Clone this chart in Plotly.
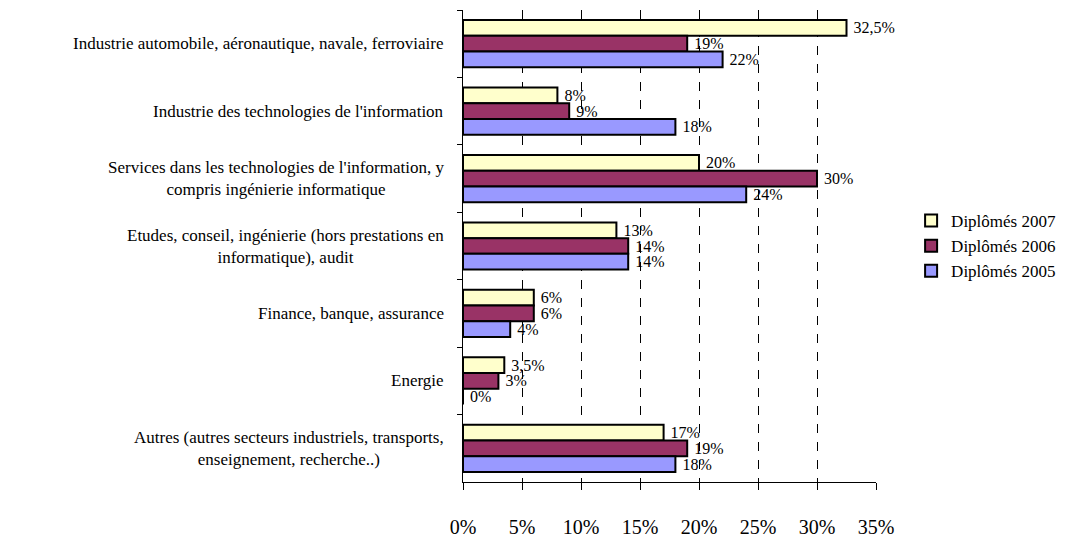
import plotly.graph_objects as go

categories = [
    "Industrie automobile, aéronautique, navale, ferroviaire",
    "Industrie des technologies de l'information",
    "Services dans les technologies de l'information, y<br>compris ingénierie informatique",
    "Etudes, conseil, ingénierie (hors prestations en<br>informatique), audit",
    "Finance, banque, assurance",
    "Energie",
    "Autres (autres secteurs industriels, transports,<br>enseignement, recherche..)",
]
diplomes_2007 = [32.5, 8, 20, 13, 6, 3.5, 17]
diplomes_2006 = [19, 9, 30, 14, 6, 3, 19]
diplomes_2005 = [22, 18, 24, 14, 4, 0, 18]
x_ticks = [0, 5, 10, 15, 20, 25, 30, 35]

FONT = "Liberation Serif"


def fmt(v):
    s = f"{v:g}".replace(".", ",")
    return "\u00a0" + s + "%"


series = [
    ("Diplômés 2007", diplomes_2007, "#FFFFCC"),
    ("Diplômés 2006", diplomes_2006, "#993366"),
    ("Diplômés 2005", diplomes_2005, "#9999FF"),
]

fig = go.Figure()
for name, vals, color in series:
    fig.add_trace(go.Bar(
        name=name,
        y=categories,
        x=vals,
        orientation="h",
        marker=dict(color=color, line=dict(color="black", width=2)),
        text=[fmt(v) for v in vals],
        textposition="outside",
        constraintext="none",
        cliponaxis=False,
        textfont=dict(family=FONT, size=16, color="black"),
    ))

# category labels, lines centred like the original
for c in categories:
    fig.add_annotation(
        x=-0.04, xref="paper", xanchor="right",
        y=c, yref="y", yanchor="middle",
        text=c, align="center", showarrow=False,
        font=dict(family=FONT, size=17, color="black"),
    )

# page has an 8px body margin, so the figure is shifted; compensate
fig.update_layout(
    width=1068, height=532,
    barmode="group",
    bargap=0.3,
    bargroupgap=0,
    plot_bgcolor="white",
    paper_bgcolor="white",
    margin=dict(l=455, r=200, t=2, b=52),
    font=dict(family=FONT, size=14, color="black"),
    legend=dict(
        x=1.085, y=0.5, xanchor="left", yanchor="middle",
        traceorder="normal",
        font=dict(family=FONT, size=17, color="black"),
        itemwidth=30,
    ),
    xaxis=dict(
        range=[0, 35],
        tickvals=x_ticks,
        ticktext=[f"{t}%" for t in x_ticks],
        showgrid=True,
        gridcolor="black",
        griddash="dash",
        gridwidth=1,
        showline=True,
        linecolor="black",
        linewidth=1,
        ticks="outside",
        ticklen=7,
        tickcolor="black",
        ticklabelstandoff=20,
        tickfont=dict(family=FONT, size=20, color="black"),
        zeroline=False,
    ),
    yaxis=dict(
        autorange="reversed",
        showticklabels=False,
        showline=True,
        linecolor="black",
        linewidth=1,
        ticks="outside",
        tickson="boundaries",
        ticklen=5,
        tickcolor="black",
        showgrid=False,
    ),
)

fig.write_html("out.html")
